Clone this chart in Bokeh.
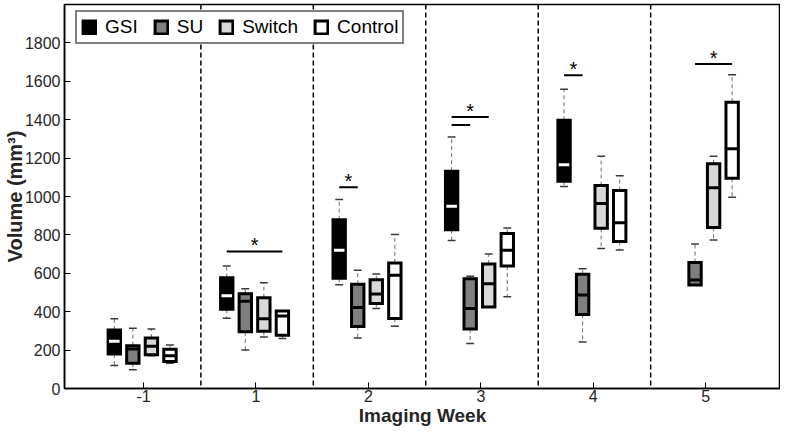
import numpy as np
from bokeh.plotting import figure
from bokeh.models import Span, FixedTicker, Range1d, Legend, LegendItem, ColumnDataSource
from bokeh.embed import file_html
from bokeh.resources import INLINE

weeks = ["-1", "1", "2", "3", "4", "5"]
treatments = ["GSI", "SU", "Switch", "Control"]

nan = float("nan")
# box statistics per treatment: lower whisker, q1, median, q3, upper whisker
gsi_lo  = [120, 366, 541, 771, 1052, nan]
gsi_q1  = [180, 413, 574, 827, 1080, nan]
gsi_med = [246, 483, 720, 949, 1165, nan]
gsi_q3  = [305, 577, 879, 1132, 1397, nan]
gsi_hi  = [363, 638, 985, 1310, 1558, nan]

su_lo  = [98, 200, 263, 234, 242, 539]
su_q1  = [132, 295, 323, 310, 386, 539]
su_med = [206, 454, 422, 417, 487, 565]
su_q3  = [223, 494, 543, 572, 595, 656]
su_hi  = [314, 520, 616, 584, 624, 752]

sw_lo  = [170, 268, 417, 424, 729, 774]
sw_q1  = [176, 298, 443, 424, 834, 839]
sw_med = [220, 363, 492, 546, 964, 1045]
sw_q3  = [263, 473, 567, 649, 1057, 1170]
sw_hi  = [310, 551, 597, 701, 1209, 1210]

ct_lo  = [131, 260, 324, 478, 721, 996]
ct_q1  = [140, 277, 365, 638, 766, 1095]
ct_med = [171, 377, 590, 720, 863, 1249]
ct_q3  = [204, 403, 654, 807, 1031, 1491]
ct_hi  = [227, 403, 802, 836, 1108, 1634]

stats = {
    "GSI": (gsi_lo, gsi_q1, gsi_med, gsi_q3, gsi_hi),
    "SU": (su_lo, su_q1, su_med, su_q3, su_hi),
    "Switch": (sw_lo, sw_q1, sw_med, sw_q3, sw_hi),
    "Control": (ct_lo, ct_q1, ct_med, ct_q3, ct_hi),
}
fills = {"GSI": "#000000", "SU": "#7f7f7f", "Switch": "#d9d9d9", "Control": "#ffffff"}
median_colors = {"GSI": "#ffffff", "SU": "#000000", "Switch": "#000000", "Control": "#000000"}
offsets = {"GSI": -0.26, "SU": -0.095, "Switch": 0.07, "Control": 0.235}

# significance brackets: (week index, from, to, height)
brackets = [(1, "GSI", "Control", 713), (2, "GSI", "SU", 1048),
            (3, "GSI", "Switch", 1414), (3, "GSI", "SU", 1373),
            (4, "GSI", "SU", 1631), (5, "SU", "Control", 1690)]
stars = [(1, "GSI", "Control", 713), (2, "GSI", "SU", 1048),
         (3, "GSI", "Switch", 1414), (4, "GSI", "SU", 1631), (5, "SU", "Control", 1690)]

yticks = list(range(0, 1801, 200))

FONT = "Liberation Sans"
p = figure(width=780, height=428, x_range=Range1d(0.297, 6.665), y_range=Range1d(0, 2000),
           output_backend="svg", toolbar_location=None,
           min_border_top=4, min_border_right=0, min_border_left=0, min_border_bottom=0)
p.grid.visible = False
p.outline_line_color = "black"
p.outline_line_width = 1.5
p.background_fill_color = "white"

pos = np.arange(1, len(weeks) + 1)
BW = 0.11
CAP = 0.035

legend_items = []
for t in treatments:
    lo, q1, med, q3, hi = [np.array(a, dtype=float) for a in stats[t]]
    x = pos + offsets[t]
    src = ColumnDataSource(dict(x=x, lo=lo, q1=q1, med=med, q3=q3, hi=hi,
                                cl=x - CAP, cr=x + CAP, ml=x - BW / 2 + 0.008, mr=x + BW / 2 - 0.008))
    p.segment(x0="x", y0="q3", x1="x", y1="hi", source=src, line_color="#6e6e6e",
              line_width=1, line_dash="4 3")
    p.segment(x0="x", y0="q1", x1="x", y1="lo", source=src, line_color="#6e6e6e",
              line_width=1, line_dash="4 3")
    p.segment(x0="cl", y0="hi", x1="cr", y1="hi", source=src, line_color="#3a3a3a", line_width=1.5)
    p.segment(x0="cl", y0="lo", x1="cr", y1="lo", source=src, line_color="#3a3a3a", line_width=1.5)
    r = p.vbar(x="x", bottom="q1", top="q3", width=BW, source=src, fill_color=fills[t],
               line_color="black", line_width=3, line_join="miter")
    p.segment(x0="ml", y0="med", x1="mr", y1="med", source=src, line_color=median_colors[t],
              line_width=3)
    legend_items.append(LegendItem(label=t, renderers=[r]))

for k in range(1, len(weeks)):
    p.add_layout(Span(location=k + 0.51, dimension="height", line_color="black",
                      line_width=1.5, line_dash="5 3"))

bx0 = [b[0] + 1 + offsets[b[1]] for b in brackets]
bx1 = [b[0] + 1 + offsets[b[2]] for b in brackets]
by = [b[3] for b in brackets]
p.segment(x0=bx0, y0=by, x1=bx1, y1=by, line_color="black", line_width=2)
sx = [s[0] + 1 + (offsets[s[1]] + offsets[s[2]]) / 2 for s in stars]
sy = [s[3] + 65 for s in stars]
p.text(x=sx, y=sy, text=["*"] * len(sx), text_align="center", text_baseline="alphabetic",
       y_offset=6, text_font_size="20px", text_color="black")

legend = Legend(items=legend_items, orientation="horizontal", location=(11, 344),
                label_text_font=FONT, label_text_font_size="19px", label_text_color="black",
                glyph_width=16, glyph_height=16, label_standoff=8, spacing=15,
                padding=4, label_height=20, margin=0,
                border_line_color="black", border_line_width=2, border_line_join="miter",
                background_fill_alpha=1)
p.add_layout(legend, "center")

p.xaxis.ticker = FixedTicker(ticks=list(pos))
p.xaxis.major_label_overrides = {int(i): w for i, w in zip(pos, weeks)}
p.yaxis.ticker = FixedTicker(ticks=yticks)
for ax in (p.xaxis, p.yaxis):
    ax.major_tick_in = 6
    ax.major_tick_out = 0
    ax.minor_tick_line_color = None
    ax.axis_line_color = "black"
    ax.axis_line_width = 1.5
    ax.major_tick_line_color = "black"
    ax.major_label_text_font = FONT
    ax.major_label_text_font_size = "16px"
    ax.major_label_text_color = "#262626"
    ax.axis_label_text_font = FONT
    ax.axis_label_text_font_style = "bold"
    ax.axis_label_text_color = "#262626"
p.xaxis.major_label_standoff = 1
p.xaxis.axis_label_standoff = 0
p.yaxis.major_label_standoff = 4
p.yaxis.axis_label_standoff = -4
p.xaxis.axis_label = "Imaging Week"
p.xaxis.axis_label_text_font_size = "19px"
p.yaxis.axis_label = "Volume (mm³)"
p.yaxis.axis_label_text_font_size = "20px"

open("out.html", "w").write(file_html(p, INLINE))
